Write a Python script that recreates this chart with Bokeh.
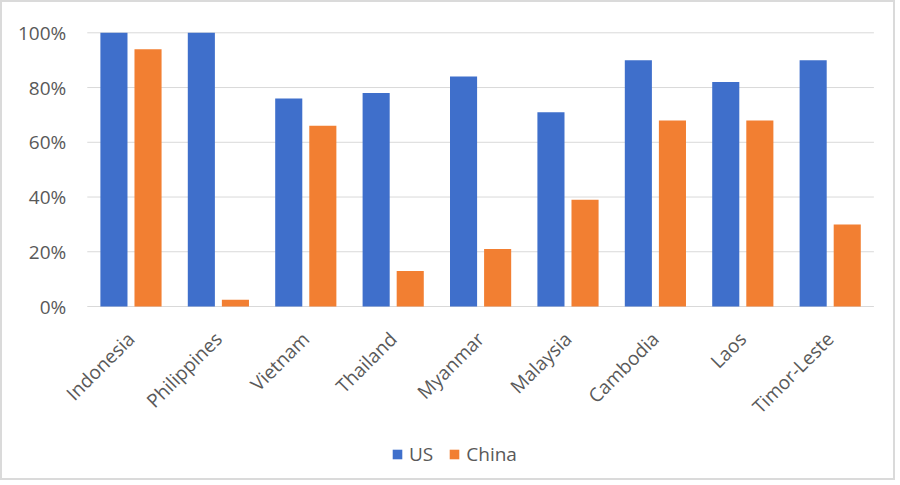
from math import pi
from bokeh.plotting import figure
from bokeh.models import (ColumnDataSource, Range1d, FixedTicker,
                          PrintfTickFormatter, Legend, LegendItem)
from bokeh.transform import dodge
from bokeh.embed import file_html
from bokeh.resources import INLINE

countries = ["Indonesia", "Philippines", "Vietnam", "Thailand", "Myanmar",
             "Malaysia", "Cambodia", "Laos", "Timor-Leste"]
us_values = [100, 100, 76, 78, 84, 71, 90, 82, 90]
china_values = [94, 2.5, 66, 13, 21, 39, 68, 68, 30]
y_ticks = [0, 20, 40, 60, 80, 100]

FONT = "Open Sans"
GRAY = "#595959"
FS = "19px"

idx = list(range(len(countries)))
src = ColumnDataSource(dict(idx=idx, country=countries, us=us_values, china=china_values))

# frame covers the whole canvas; axes are placed inside it with fixed_location
x_lo, x_hi = -0.5, len(countries) - 0.5
p = figure(width=895, height=480,
           x_range=Range1d(-1.47, 8.77), y_range=Range1d(-64.3, 111.07),
           output_backend="svg", toolbar_location=None,
           min_border_left=0, min_border_right=0, min_border_top=0,
           min_border_bottom=0)
p.styles = {"border": "2px solid #dadada"}

# horizontal gridlines over the category span
p.segment(x0=[x_lo] * len(y_ticks), x1=[x_hi] * len(y_ticks), y0=y_ticks, y1=y_ticks,
          line_color="#D9D9D9", line_width=1)

r_us = p.vbar(x=dodge("idx", -0.195), top="us", width=0.31,
              source=src, fill_color="#3F6FCB", line_color=None)
r_cn = p.vbar(x=dodge("idx", 0.195), top="china", width=0.31,
              source=src, fill_color="#F27F32", line_color=None)

p.outline_line_color = None
p.grid.visible = False

p.yaxis.ticker = FixedTicker(ticks=y_ticks)
p.yaxis.formatter = PrintfTickFormatter(format="%d%%")
p.yaxis.fixed_location = x_lo
p.xaxis.ticker = FixedTicker(ticks=idx)
p.xaxis.major_label_overrides = {i: c for i, c in zip(idx, countries)}
p.xaxis.fixed_location = 0
for ax in (p.xaxis[0], p.yaxis[0]):
    ax.axis_line_color = None
    ax.major_tick_line_color = None
    ax.minor_tick_line_color = None
    ax.major_tick_out = 0
    ax.major_tick_in = 0
    ax.major_label_text_font = FONT
    ax.major_label_text_font_size = FS
    ax.major_label_text_color = GRAY
p.yaxis.major_label_standoff = 21
p.xaxis.major_label_orientation = pi / 4
p.xaxis.major_label_standoff = 29

legend = Legend(items=[LegendItem(label="US", renderers=[r_us]),
                       LegendItem(label="China", renderers=[r_cn])],
                orientation="horizontal", location=(389, 15),
                padding=0, margin=0, spacing=15, label_standoff=6,
                glyph_width=12, glyph_height=12, label_height=20,
                border_line_color=None, background_fill_alpha=0,
                label_text_font=FONT, label_text_font_size=FS,
                label_text_color=GRAY)
p.add_layout(legend)

open("out.html", "w").write(file_html(p, INLINE))
